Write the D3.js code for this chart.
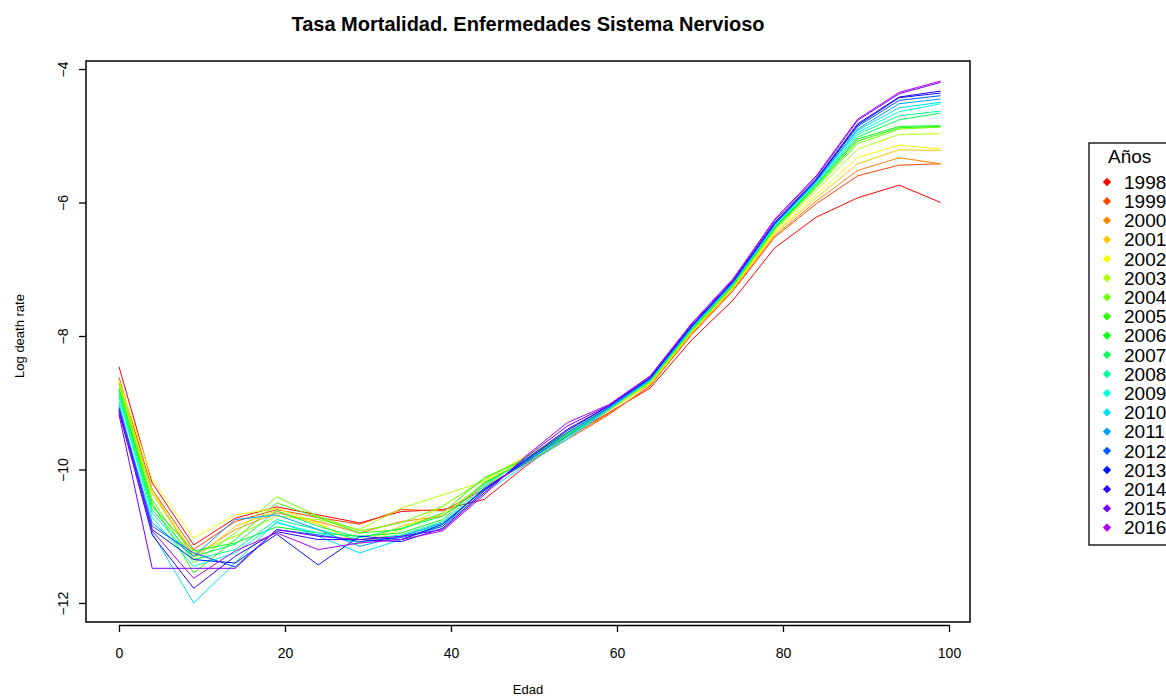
<!DOCTYPE html>
<html>
<head>
<meta charset="utf-8">
<script src="https://cdn.jsdelivr.net/npm/d3@7"></script>
<style>
  body { margin: 0; background: #fff; }
  svg { display: block; font-family: "Liberation Sans", Arial, sans-serif; }
</style>
</head>
<body>
<svg id="svg" width="1166" height="700"></svg>
<script>
// Edad (x) y tasas log de mortalidad por año
const ages = [0, 4, 9, 14, 19, 24, 29, 34, 39, 44, 49, 54, 59, 64, 69, 74, 79, 84, 89, 94, 99];
const years = [1998, 1999, 2000, 2001, 2002, 2003, 2004, 2005, 2006, 2007, 2008, 2009, 2010, 2011, 2012, 2013, 2014, 2015, 2016];
const xTicks = [0, 20, 40, 60, 80, 100];
const yTicks = [-4, -6, -8, -10, -12];

const r1998 = [-8.46, -10.2, -11.13, -10.73, -10.56, -10.68, -10.8, -10.63, -10.6, -10.45, -9.95, -9.5, -9.15, -8.78, -8.06, -7.46, -6.68, -6.22, -5.93, -5.74, -6.0];
const r1999 = [-8.62, -10.3, -11.2, -10.78, -10.6, -10.72, -10.82, -10.6, -10.62, -10.3, -9.9, -9.55, -9.18, -8.74, -7.98, -7.32, -6.52, -6.02, -5.6, -5.44, -5.42];
const r2000 = [-8.7, -10.35, -11.3, -10.9, -10.65, -10.78, -10.95, -10.78, -10.7, -10.25, -9.92, -9.52, -9.17, -8.75, -7.96, -7.3, -6.5, -5.98, -5.52, -5.33, -5.42];
const r2001 = [-8.98, -10.3, -11.35, -10.85, -10.62, -10.82, -11.1, -10.85, -10.68, -10.2, -9.85, -9.48, -9.12, -8.72, -7.95, -7.28, -6.47, -5.93, -5.42, -5.21, -5.22];
const r2002 = [-8.66, -10.15, -11.03, -10.68, -10.58, -10.8, -11.12, -10.9, -10.55, -10.15, -9.8, -9.45, -9.1, -8.7, -7.94, -7.27, -6.45, -5.88, -5.33, -5.14, -5.2];
const r2003 = [-8.68, -10.35, -11.25, -11.0, -10.7, -10.75, -10.9, -10.58, -10.38, -10.18, -9.85, -9.5, -9.12, -8.7, -7.93, -7.26, -6.42, -5.82, -5.2, -4.98, -4.97];
const r2004 = [-8.72, -10.45, -11.4, -10.95, -10.41, -10.7, -10.92, -10.8, -10.55, -10.15, -9.82, -9.47, -9.1, -8.68, -7.92, -7.25, -6.4, -5.78, -5.12, -4.9, -4.87];
const r2005 = [-8.78, -10.5, -11.55, -11.05, -10.5, -10.72, -10.95, -10.9, -10.65, -10.12, -9.85, -9.45, -9.08, -8.68, -7.91, -7.24, -6.39, -5.76, -5.08, -4.88, -4.86];
const r2006 = [-8.8, -10.55, -11.22, -11.1, -10.86, -10.95, -11.0, -10.95, -10.75, -10.2, -9.88, -9.5, -9.1, -8.67, -7.9, -7.23, -6.38, -5.74, -5.05, -4.86, -4.85];
const r2007 = [-8.85, -10.6, -11.3, -11.12, -10.62, -10.85, -11.02, -10.88, -10.7, -10.22, -9.86, -9.48, -9.09, -8.67, -7.9, -7.22, -6.37, -5.73, -5.02, -4.76, -4.66];
const r2008 = [-8.9, -10.65, -11.35, -11.2, -10.75, -10.9, -11.05, -10.98, -10.78, -10.25, -9.84, -9.46, -9.08, -8.66, -7.89, -7.22, -6.36, -5.72, -4.98, -4.7, -4.63];
const r2009 = [-8.92, -10.72, -11.45, -11.25, -10.8, -10.95, -11.1, -11.0, -10.82, -10.28, -9.9, -9.52, -9.1, -8.66, -7.88, -7.21, -6.35, -5.7, -4.95, -4.64, -4.52];
const r2010 = [-9.0, -10.95, -12.0, -11.4, -10.78, -11.0, -11.25, -11.05, -10.85, -10.35, -9.93, -9.55, -9.1, -8.65, -7.88, -7.2, -6.34, -5.69, -4.92, -4.58, -4.5];
const r2011 = [-9.05, -10.8, -11.3, -10.75, -10.68, -10.9, -11.15, -11.0, -10.8, -10.3, -9.88, -9.5, -9.08, -8.65, -7.87, -7.2, -6.33, -5.68, -4.9, -4.52, -4.45];
const r2012 = [-9.08, -10.85, -11.25, -11.46, -10.9, -10.98, -11.08, -11.02, -10.85, -10.28, -9.9, -9.45, -9.07, -8.64, -7.86, -7.19, -6.32, -5.67, -4.86, -4.47, -4.4];
const r2013 = [-9.1, -10.9, -11.35, -11.4, -10.97, -11.43, -11.0, -11.05, -10.82, -10.3, -9.87, -9.42, -9.05, -8.63, -7.85, -7.18, -6.31, -5.66, -4.84, -4.43, -4.36];
const r2014 = [-9.14, -10.98, -11.78, -11.3, -10.93, -11.05, -11.05, -11.08, -10.88, -10.32, -9.85, -9.4, -9.05, -8.62, -7.84, -7.17, -6.3, -5.65, -4.82, -4.42, -4.33];
const r2015 = [-9.18, -11.48, -11.48, -11.48, -10.9, -11.0, -11.05, -11.0, -10.9, -10.35, -9.82, -9.35, -9.04, -8.6, -7.82, -7.15, -6.27, -5.62, -4.77, -4.37, -4.2];
const r2016 = [-9.12, -10.92, -11.63, -11.22, -10.95, -11.2, -11.1, -11.05, -10.92, -10.38, -9.8, -9.3, -9.03, -8.6, -7.81, -7.14, -6.25, -5.6, -4.75, -4.35, -4.18];

const rates = [r1998, r1999, r2000, r2001, r2002, r2003, r2004, r2005, r2006, r2007,
               r2008, r2009, r2010, r2011, r2012, r2013, r2014, r2015, r2016];

// colores tipo rainbow() de R
const color = i => d3.hsl(i * 360 / 23, 1, 0.5).formatHex();

let svg = d3.select("svg");
let box = {left: 86, right: 970, top: 61, bottom: 622};

let x = d3.scaleLinear().domain([0, 100]).range([119, 949]);
let y = d3.scaleLinear().domain([-4, -12]).range([69, 603]);

// title
svg.append("text")
  .attr("x", 528).attr("y", 31)
  .attr("text-anchor", "middle")
  .style("font-weight", "bold").style("font-size", "20px")
  .text("Tasa Mortalidad. Enfermedades Sistema Nervioso");

let line = d3.line()
  .x((d, i) => x(ages[i]))
  .y(d => y(d));

rates.forEach((r, i) => {
  svg.append("path")
    .datum(r)
    .attr("fill", "none")
    .attr("stroke", color(i))
    .attr("stroke-width", 1)
    .attr("stroke-linejoin", "round")
    .attr("d", line);
});

// plot box
svg.append("rect")
  .attr("x", box.left).attr("y", box.top)
  .attr("width", box.right - box.left).attr("height", box.bottom - box.top)
  .attr("fill", "none").attr("stroke", "#000").attr("stroke-width", 1.5);

// axes
let gx = svg.append("g")
  .attr("transform", "translate(0," + (box.bottom + 3) + ")")
  .call(d3.axisBottom(x).tickValues(xTicks).tickSize(7).tickSizeOuter(0).tickPadding(16));
let gy = svg.append("g")
  .attr("transform", "translate(" + box.left + ",0)")
  .call(d3.axisLeft(y).tickValues(yTicks).tickSize(7).tickSizeOuter(0));

[gx, gy].forEach(g => {
  g.selectAll("path, line").attr("stroke", "#000").attr("stroke-width", 1.3);
  g.selectAll("text").style("font-size", "14px").style("font-family", "'Liberation Sans', Arial, sans-serif").attr("fill", "#000");
});
gy.select(".domain").remove();
gy.selectAll("text")
  .attr("transform", "rotate(-90)")
  .attr("text-anchor", "middle")
  .attr("x", 0).attr("y", -23).attr("dy", "0.35em");

// axis titles
svg.append("text")
  .attr("x", 528).attr("y", 694)
  .attr("text-anchor", "middle").style("font-size", "13px")
  .text("Edad");
svg.append("text")
  .attr("transform", "translate(24,336) rotate(-90)")
  .attr("text-anchor", "middle").style("font-size", "13px")
  .text("Log death rate");

// legend
let lg = svg.append("g");
lg.append("rect")
  .attr("x", 1089).attr("y", 143).attr("width", 100).attr("height", 402)
  .attr("fill", "#fff").attr("stroke", "#000").attr("stroke-width", 1.3);
lg.append("text")
  .attr("x", 1108).attr("y", 163)
  .style("font-size", "19px").text("Años");
let diamond = d3.symbol().type(d3.symbolDiamond2).size(44);
years.forEach((yr, i) => {
  let yy = 182 + i * 19.2;
  lg.append("path")
    .attr("d", diamond)
    .attr("transform", "translate(1107," + yy + ")")
    .attr("fill", color(i));
  lg.append("text")
    .attr("x", 1124).attr("y", yy).attr("dy", "0.36em")
    .style("font-size", "19px").text(yr);
});
</script>
</body>
</html>
